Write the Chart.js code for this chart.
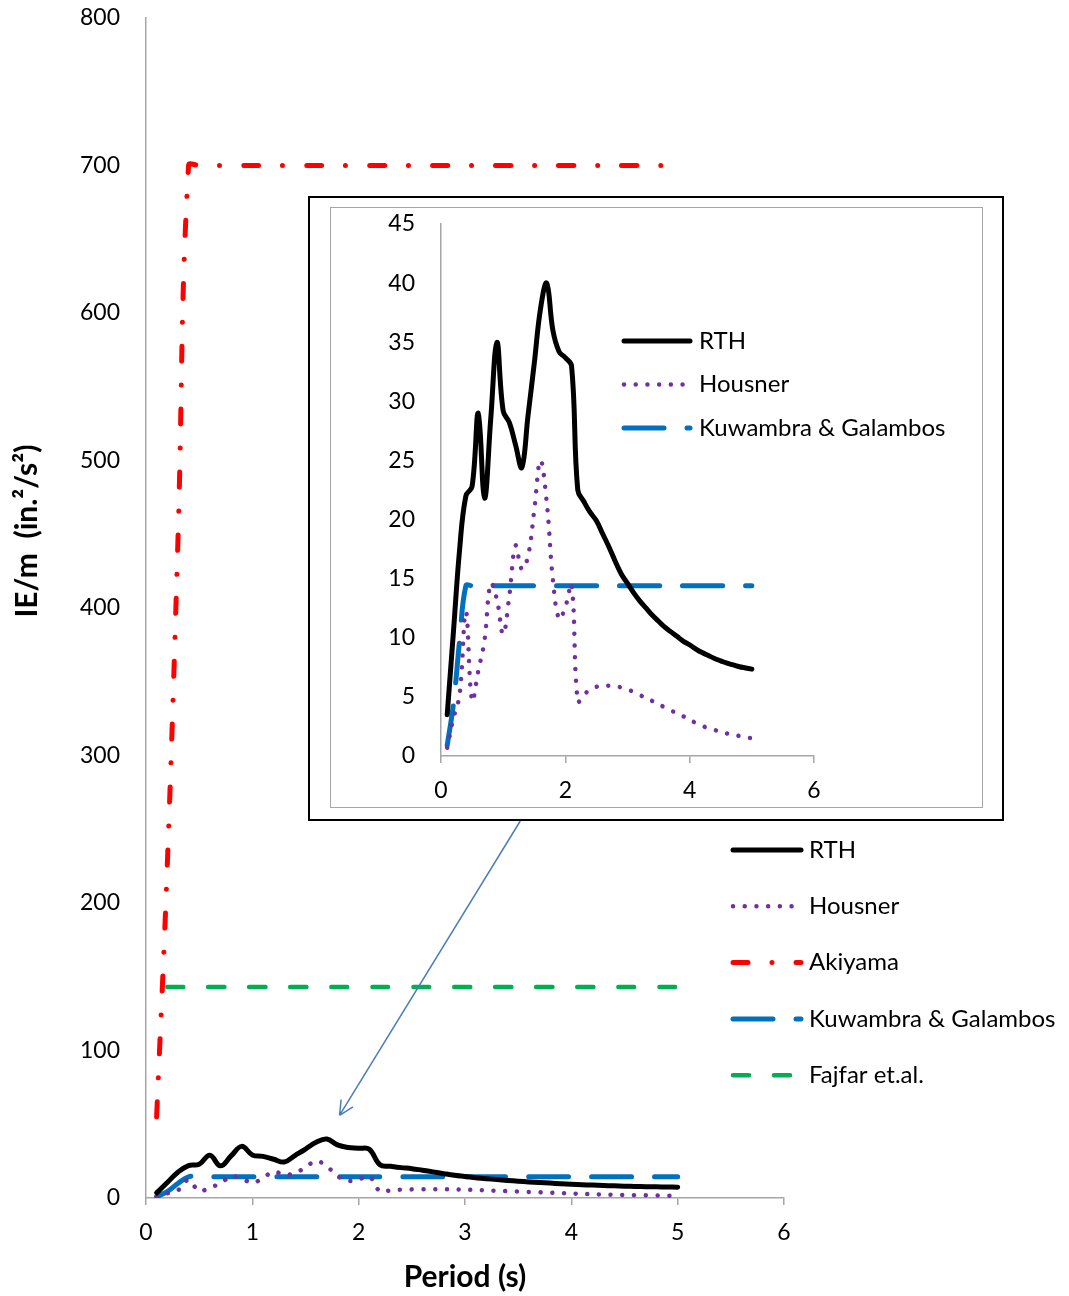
<!DOCTYPE html>
<html>
<head>
<meta charset="utf-8">
<script src="https://cdn.jsdelivr.net/npm/chart.js@4.4.1/dist/chart.umd.min.js"></script>
<style>
  html, body { margin: 0; padding: 0; background: #fff; }
  #wrap { position: relative; width: 1069px; height: 1296px; }
  #mainChart { position: absolute; left: 0; top: 0; }
  #inset { position: absolute; left: 308px; top: 196px; width: 696px; height: 625px;
           border: 2px solid #000; box-sizing: border-box; background: #fff; }
  #insetFrame { position: absolute; left: 20px; top: 9px; width: 653px; height: 601px;
                border: 1px solid #a6a6a6; box-sizing: border-box; }
  #insetChart { position: absolute; left: 0; top: 0; }
</style>
</head>
<body>
<div id="wrap">
  <canvas id="mainChart" width="1069" height="1296" style="width:1069px;height:1296px"></canvas>
  <div id="inset">
    <div id="insetFrame"></div>
    <canvas id="insetChart" width="692" height="621" style="width:692px;height:621px"></canvas>
  </div>
</div>
<script>
// periods (s)
const periods = [0.1, 0.2, 0.3, 0.4, 0.5, 0.6, 0.7, 0.8, 0.9, 1.0,
                 1.1, 1.2, 1.3, 1.4, 1.5, 1.6, 1.7, 1.8, 1.9, 2.0,
                 2.1, 2.2, 2.3, 2.4, 2.5, 2.6, 2.7, 2.8, 2.9, 3.0,
                 3.1, 3.2, 3.3, 3.4, 3.5, 3.6, 3.7, 3.8, 3.9, 4.0,
                 4.1, 4.2, 4.3, 4.4, 4.5, 4.6, 4.7, 4.8, 4.9, 5.0];

// IE/m (in.^2/s^2)
const rth = [3.5, 10.5, 17.5, 22, 22.8, 29, 21.8, 28.5, 35, 29.2,
             28.2, 26.3, 24.4, 28.8, 33.2, 37.8, 40, 36, 34.2, 33.7,
             33, 22.5, 21.5, 20.6, 19.9, 18.8, 17.7, 16.5, 15.4, 14.6,
             13.8, 13.1, 12.5, 11.9, 11.4, 10.9, 10.5, 10.1, 9.7, 9.4,
             9.05, 8.75, 8.5, 8.25, 8.05, 7.85, 7.7, 7.55, 7.45, 7.35];

const housner = [0.7, 3.2, 5.2, 12.2, 4.7, 7.2, 9.8, 14.6, 13.2, 10.3,
                 13.6, 17.8, 15.8, 16.9, 20.8, 25, 21.5, 14.9, 11.6, 12.6,
                 14.5, 4.6, 5.2, 5.6, 5.85, 5.95, 5.95, 5.9, 5.8, 5.65,
                 5.4, 5.15, 4.9, 4.65, 4.4, 4.1, 3.85, 3.6, 3.35, 3.05,
                 2.8, 2.55, 2.35, 2.2, 2.05, 1.9, 1.8, 1.7, 1.6, 1.5];

const akiyama = [55, 225, 445, 700, 700, 700, 700, 700, 700, 700,
                 700, 700, 700, 700, 700, 700, 700, 700, 700, 700,
                 700, 700, 700, 700, 700, 700, 700, 700, 700, 700,
                 700, 700, 700, 700, 700, 700, 700, 700, 700, 700,
                 700, 700, 700, 700, 700, 700, 700, 700, 700, 700];

const kuwambra = [0.9, 4.4, 9.8, 14.4, 14.4, 14.4, 14.4, 14.4, 14.4, 14.4,
                  14.4, 14.4, 14.4, 14.4, 14.4, 14.4, 14.4, 14.4, 14.4, 14.4,
                  14.4, 14.4, 14.4, 14.4, 14.4, 14.4, 14.4, 14.4, 14.4, 14.4,
                  14.4, 14.4, 14.4, 14.4, 14.4, 14.4, 14.4, 14.4, 14.4, 14.4,
                  14.4, 14.4, 14.4, 14.4, 14.4, 14.4, 14.4, 14.4, 14.4, 14.4];

const fajfar = [null, 143, 143, 143, 143, 143, 143, 143, 143, 143,
                143, 143, 143, 143, 143, 143, 143, 143, 143, 143,
                143, 143, 143, 143, 143, 143, 143, 143, 143, 143,
                143, 143, 143, 143, 143, 143, 143, 143, 143, 143,
                143, 143, 143, 143, 143, 143, 143, 143, 143, 143];

const mainYTicks = [0, 100, 200, 300, 400, 500, 600, 700, 800];
const mainXTicks = [0, 1, 2, 3, 4, 5, 6];
const insetYTicks = [0, 5, 10, 15, 20, 25, 30, 35, 40, 45];
const insetXTicks = [0, 2, 4, 6];

// arrow points at this spot of the main chart (period, IE/m)
const arrowTarget = { x: 1.82, y: 56 };

const FONT = 'Lato, "Open Sans", sans-serif';
const AXIS_GRAY = '#a6a6a6';
Chart.defaults.font.family = FONT;
Chart.defaults.color = '#000';

const pts = (vals) => periods.map((t, i) => ({ x: t, y: vals[i] }));

const styles = {
  rth:      { label: 'RTH', borderColor: '#000000', borderWidth: 5, borderDash: [] },
  housner:  { label: 'Housner', borderColor: '#7030a0', borderWidth: 4.5, borderDash: [0.01, 11.7] },
  akiyama:  { label: 'Akiyama', borderColor: '#ff0000', borderWidth: 5, borderDash: [15, 24, 0.01, 24] },
  kuwambra: { label: 'Kuwambra & Galambos', borderColor: '#0070c0', borderWidth: 5, borderDash: [40, 23] },
  fajfar:   { label: 'Fajfar et.al.', borderColor: '#00b050', borderWidth: 4.5, borderDash: [16, 25] }
};

function makeSet(key, vals) {
  return Object.assign({
    data: pts(vals),
    pointRadius: 0,
    tension: 0.4,
    fill: false,
    borderCapStyle: 'round',
    borderJoinStyle: 'round'
  }, styles[key]);
}

// legend with line samples drawn from the dataset styles
const lineLegend = {
  id: 'lineLegend',
  afterDraw(chart, args, opts) {
    const ctx = chart.ctx;
    ctx.save();
    ctx.font = opts.font;
    ctx.textBaseline = 'middle';
    ctx.textAlign = 'left';
    chart.data.datasets.forEach((ds, i) => {
      const y = opts.top + i * opts.rowHeight;
      ctx.save();
      ctx.strokeStyle = ds.borderColor;
      ctx.lineWidth = ds.borderWidth;
      ctx.lineCap = 'round';
      ctx.setLineDash(ds.borderDash || []);
      ctx.beginPath();
      ctx.moveTo(opts.left, y);
      ctx.lineTo(opts.left + opts.sampleWidth, y);
      ctx.stroke();
      ctx.restore();
      ctx.fillStyle = '#000';
      ctx.fillText(ds.label, opts.left + opts.sampleWidth + opts.gap, y);
    });
    ctx.restore();
  }
};

const yTitle = {
  id: 'yTitle',
  afterDraw(chart, args, opts) {
    const ctx = chart.ctx;
    ctx.save();
    ctx.translate(opts.x, opts.y);
    ctx.rotate(-Math.PI / 2);
    ctx.font = opts.font;
    ctx.fillStyle = '#000';
    ctx.textAlign = 'center';
    ctx.textBaseline = 'middle';
    ctx.fillText(opts.text, 0, 0);
    ctx.restore();
  }
};

const zoomArrow = {
  id: 'zoomArrow',
  afterDatasetsDraw(chart) {
    const box = document.getElementById('inset');
    const x0 = box.offsetLeft + box.offsetWidth * 0.305;
    const y0 = box.offsetTop + box.offsetHeight;
    const x1 = chart.scales.x.getPixelForValue(arrowTarget.x);
    const y1 = chart.scales.y.getPixelForValue(arrowTarget.y);
    const ang = Math.atan2(y1 - y0, x1 - x0);
    const ctx = chart.ctx;
    ctx.save();
    ctx.strokeStyle = '#4a7ebb';
    ctx.lineWidth = 1.5;
    ctx.beginPath();
    ctx.moveTo(x0, y0);
    ctx.lineTo(x1, y1);
    [0.45, -0.45].forEach(d => {
      ctx.moveTo(x1, y1);
      ctx.lineTo(x1 - 16 * Math.cos(ang + d), y1 - 16 * Math.sin(ang + d));
    });
    ctx.stroke();
    ctx.restore();
  }
};

function axisX(min, max, step, ticks, titleOpts, height) {
  return {
    type: 'linear', min: min, max: max,
    afterBuildTicks: (s) => { s.ticks = ticks.map(v => ({ value: v })); },
    afterFit: (s) => { s.height = height; },
    border: { display: true, color: AXIS_GRAY, width: 1.5 },
    grid: { display: true, drawOnChartArea: false, drawTicks: true, tickLength: 7, color: AXIS_GRAY, lineWidth: 1.5 },
    ticks: { stepSize: step, padding: 14, maxRotation: 0, color: '#000', font: { size: 23 } },
    title: titleOpts
  };
}

function axisY(min, max, step, ticks, width) {
  return {
    type: 'linear', min: min, max: max,
    afterBuildTicks: (s) => { s.ticks = ticks.map(v => ({ value: v })); },
    afterFit: (s) => { s.width = width; },
    border: { display: true, color: AXIS_GRAY, width: 1.5 },
    // invisible tick marks keep the labels away from the axis line
    grid: { display: true, drawOnChartArea: false, drawTicks: true, tickLength: 24, tickColor: 'rgba(0,0,0,0)' },
    ticks: { stepSize: step, padding: 2, color: '#000', font: { size: 23 } }
  };
}

new Chart(document.getElementById('mainChart'), {
  type: 'line',
  data: {
    datasets: [
      makeSet('rth', rth),
      makeSet('housner', housner),
      makeSet('akiyama', akiyama),
      makeSet('kuwambra', kuwambra),
      makeSet('fajfar', fajfar)
    ]
  },
  options: {
    responsive: false,
    animation: false,
    layout: { padding: { left: 0, top: 18, right: 285, bottom: 0 } },
    plugins: {
      legend: { display: false },
      tooltip: { enabled: false },
      lineLegend: { left: 733, top: 850, rowHeight: 56.3, sampleWidth: 68, gap: 8, font: '24px ' + FONT },
      yTitle: { x: 27, y: 531, text: 'IE/m  (in.²/s²)', font: 'bold 30px ' + FONT }
    },
    scales: {
      x: axisX(0, 6, 1, mainXTicks,
        { display: true, text: 'Period (s)', color: '#000', font: { size: 30, weight: 'bold' }, padding: { top: 0, bottom: 1 } }, 98),
      y: axisY(0, 800, 100, mainYTicks, 146)
    }
  },
  plugins: [lineLegend, yTitle, zoomArrow]
});

new Chart(document.getElementById('insetChart'), {
  type: 'line',
  data: {
    datasets: [
      makeSet('rth', rth),
      makeSet('housner', housner),
      makeSet('kuwambra', kuwambra)
    ]
  },
  options: {
    responsive: false,
    animation: false,
    layout: { padding: { left: 0, top: 26, right: 188, bottom: 0 } },
    plugins: {
      legend: { display: false },
      tooltip: { enabled: false },
      lineLegend: { left: 314, top: 143, rowHeight: 43.5, sampleWidth: 66, gap: 9, font: '24px ' + FONT }
    },
    scales: {
      x: axisX(0, 6, 2, insetXTicks, { display: false }, 63),
      y: axisY(0, 45, 5, insetYTicks, 131)
    }
  },
  plugins: [lineLegend]
});
</script>
</body>
</html>
